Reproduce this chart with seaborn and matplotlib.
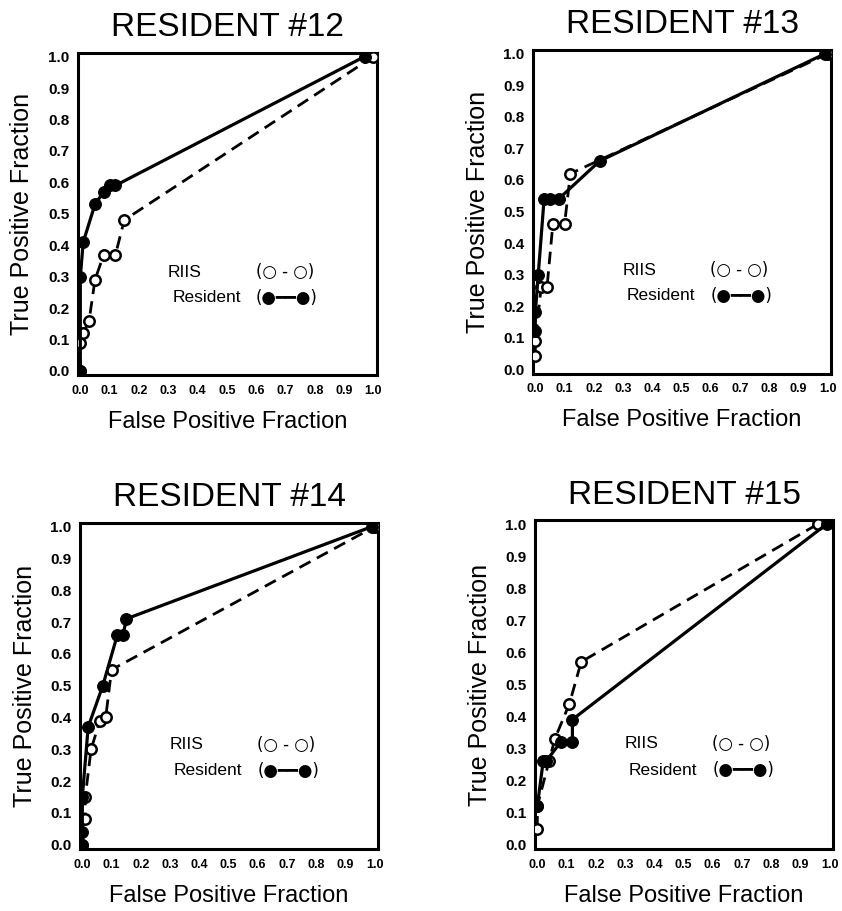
import numpy as np
import pandas as pd
import matplotlib
matplotlib.use("Agg")
import matplotlib.pyplot as plt
import seaborn as sns

# ----------------------
# DATA
# ----------------------
titles = ["RESIDENT #12", "RESIDENT #13", "RESIDENT #14", "RESIDENT #15"]

riis_fpf_12 = [0.0, 0.0, 0.01, 0.03, 0.05, 0.08, 0.12, 0.15, 1.0]
riis_tpf_12 = [0.0, 0.09, 0.12, 0.16, 0.29, 0.37, 0.37, 0.48, 1.0]
res_fpf_12 = [0.0, 0.0, 0.01, 0.05, 0.08, 0.10, 0.12, 0.97]
res_tpf_12 = [0.0, 0.30, 0.41, 0.53, 0.57, 0.59, 0.59, 1.0]

riis_fpf_13 = [0.0, 0.0, 0.02, 0.04, 0.06, 0.10, 0.12, 1.0]
riis_tpf_13 = [0.04, 0.09, 0.26, 0.26, 0.46, 0.46, 0.62, 1.0]
res_fpf_13 = [0.0, 0.0, 0.01, 0.03, 0.05, 0.08, 0.22, 0.99]
res_tpf_13 = [0.12, 0.18, 0.30, 0.54, 0.54, 0.54, 0.66, 1.0]

riis_fpf_14 = [0.0, 0.01, 0.01, 0.03, 0.06, 0.08, 0.10, 1.0]
riis_tpf_14 = [0.0, 0.08, 0.15, 0.30, 0.39, 0.40, 0.55, 1.0]
res_fpf_14 = [0.0, 0.0, 0.0, 0.02, 0.07, 0.12, 0.14, 0.15, 0.99]
res_tpf_14 = [0.0, 0.04, 0.15, 0.37, 0.50, 0.66, 0.66, 0.71, 1.0]

riis_fpf_15 = [0.0, 0.0, 0.04, 0.06, 0.11, 0.15, 0.96]
riis_tpf_15 = [0.05, 0.12, 0.26, 0.33, 0.44, 0.57, 1.0]
res_fpf_15 = [0.0, 0.02, 0.03, 0.08, 0.12, 0.12, 0.99]
res_tpf_15 = [0.12, 0.26, 0.26, 0.32, 0.32, 0.39, 1.0]

tick_vals = [0.0, 0.1, 0.2, 0.3, 0.4, 0.5, 0.6, 0.7, 0.8, 0.9, 1.0]
tick_labels = ["0.0", "0.1", "0.2", "0.3", "0.4", "0.5", "0.6", "0.7", "0.8", "0.9", "1.0"]

legend_names = ["RIIS", "Resident"]
legend_keys = ["(\u25CB - \u25CB)", "(\u25CF\u2501\u2501\u25CF)"]

panels = [
    (titles[0], riis_fpf_12, riis_tpf_12, res_fpf_12, res_tpf_12),
    (titles[1], riis_fpf_13, riis_tpf_13, res_fpf_13, res_tpf_13),
    (titles[2], riis_fpf_14, riis_tpf_14, res_fpf_14, res_tpf_14),
    (titles[3], riis_fpf_15, riis_tpf_15, res_fpf_15, res_tpf_15),
]

# axes rectangles in figure fraction (left, bottom, width, height)
rects = [
    (0.0926, 0.588, 0.355, 0.354),
    (0.633, 0.590, 0.354, 0.355),
    (0.095, 0.068, 0.354, 0.358),
    (0.6354, 0.068, 0.354, 0.361),
]

# ----------------------
# STYLE
# ----------------------
sns.set_style("white")
plt.rcParams["font.family"] = ["Liberation Sans", "DejaVu Sans"]
plt.rcParams["text.color"] = "black"
plt.rcParams["axes.labelcolor"] = "black"
plt.rcParams["xtick.color"] = "black"
plt.rcParams["ytick.color"] = "black"

fig = plt.figure(figsize=(8.42, 9.11), dpi=100)

for (title, rx, ry, sx, sy), rect in zip(panels, rects):
    ax = fig.add_axes(rect)

    riis_df = pd.DataFrame({"fpf": rx, "tpf": ry})
    res_df = pd.DataFrame({"fpf": sx, "tpf": sy})

    sns.lineplot(data=riis_df, x="fpf", y="tpf", ax=ax, sort=False, estimator=None,
                 color="black", linewidth=2.0, linestyle=(0, (4.5, 2.6)),
                 marker="o", markersize=7.5, markerfacecolor="white",
                 markeredgecolor="black", markeredgewidth=1.8, zorder=3)
    sns.lineplot(data=res_df, x="fpf", y="tpf", ax=ax, sort=False, estimator=None,
                 color="black", linewidth=2.3, marker="o", markersize=8.5,
                 markerfacecolor="black", markeredgecolor="black", zorder=4)

    ax.set_xlim(-0.008, 1.012)
    ax.set_ylim(-0.014, 1.012)
    ax.set_xticks(tick_vals)
    ax.set_xticklabels(tick_labels, fontsize=9, fontweight="bold")
    ax.set_yticks(tick_vals)
    ax.set_yticklabels(tick_labels, fontsize=11, fontweight="bold")
    ax.tick_params(axis="both", direction="in", length=9, width=1.8, color="black")
    ax.tick_params(axis="x", pad=7)
    ax.tick_params(axis="y", pad=6)

    for sp in ax.spines.values():
        sp.set_visible(True)
        sp.set_color("black")
        sp.set_linewidth(2.2)

    ax.set_xlabel("False Positive Fraction", fontsize=17, labelpad=10)
    ax.set_ylabel("True Positive Fraction", fontsize=18, labelpad=10)
    ax.set_title(title, fontsize=24, pad=12)

    # legend drawn as text, like the original figure
    ax.text(0.30, 0.32, legend_names[0], transform=ax.transAxes, fontsize=12.5, va="center")
    ax.text(0.315, 0.24, legend_names[1], transform=ax.transAxes, fontsize=12.5, va="center")
    ax.text(0.595, 0.32, legend_keys[0], transform=ax.transAxes, fontsize=12,
            va="center", family="DejaVu Sans")
    ax.text(0.595, 0.24, legend_keys[1], transform=ax.transAxes, fontsize=12,
            va="center", family="DejaVu Sans")

fig.savefig("out.png", dpi=100)
